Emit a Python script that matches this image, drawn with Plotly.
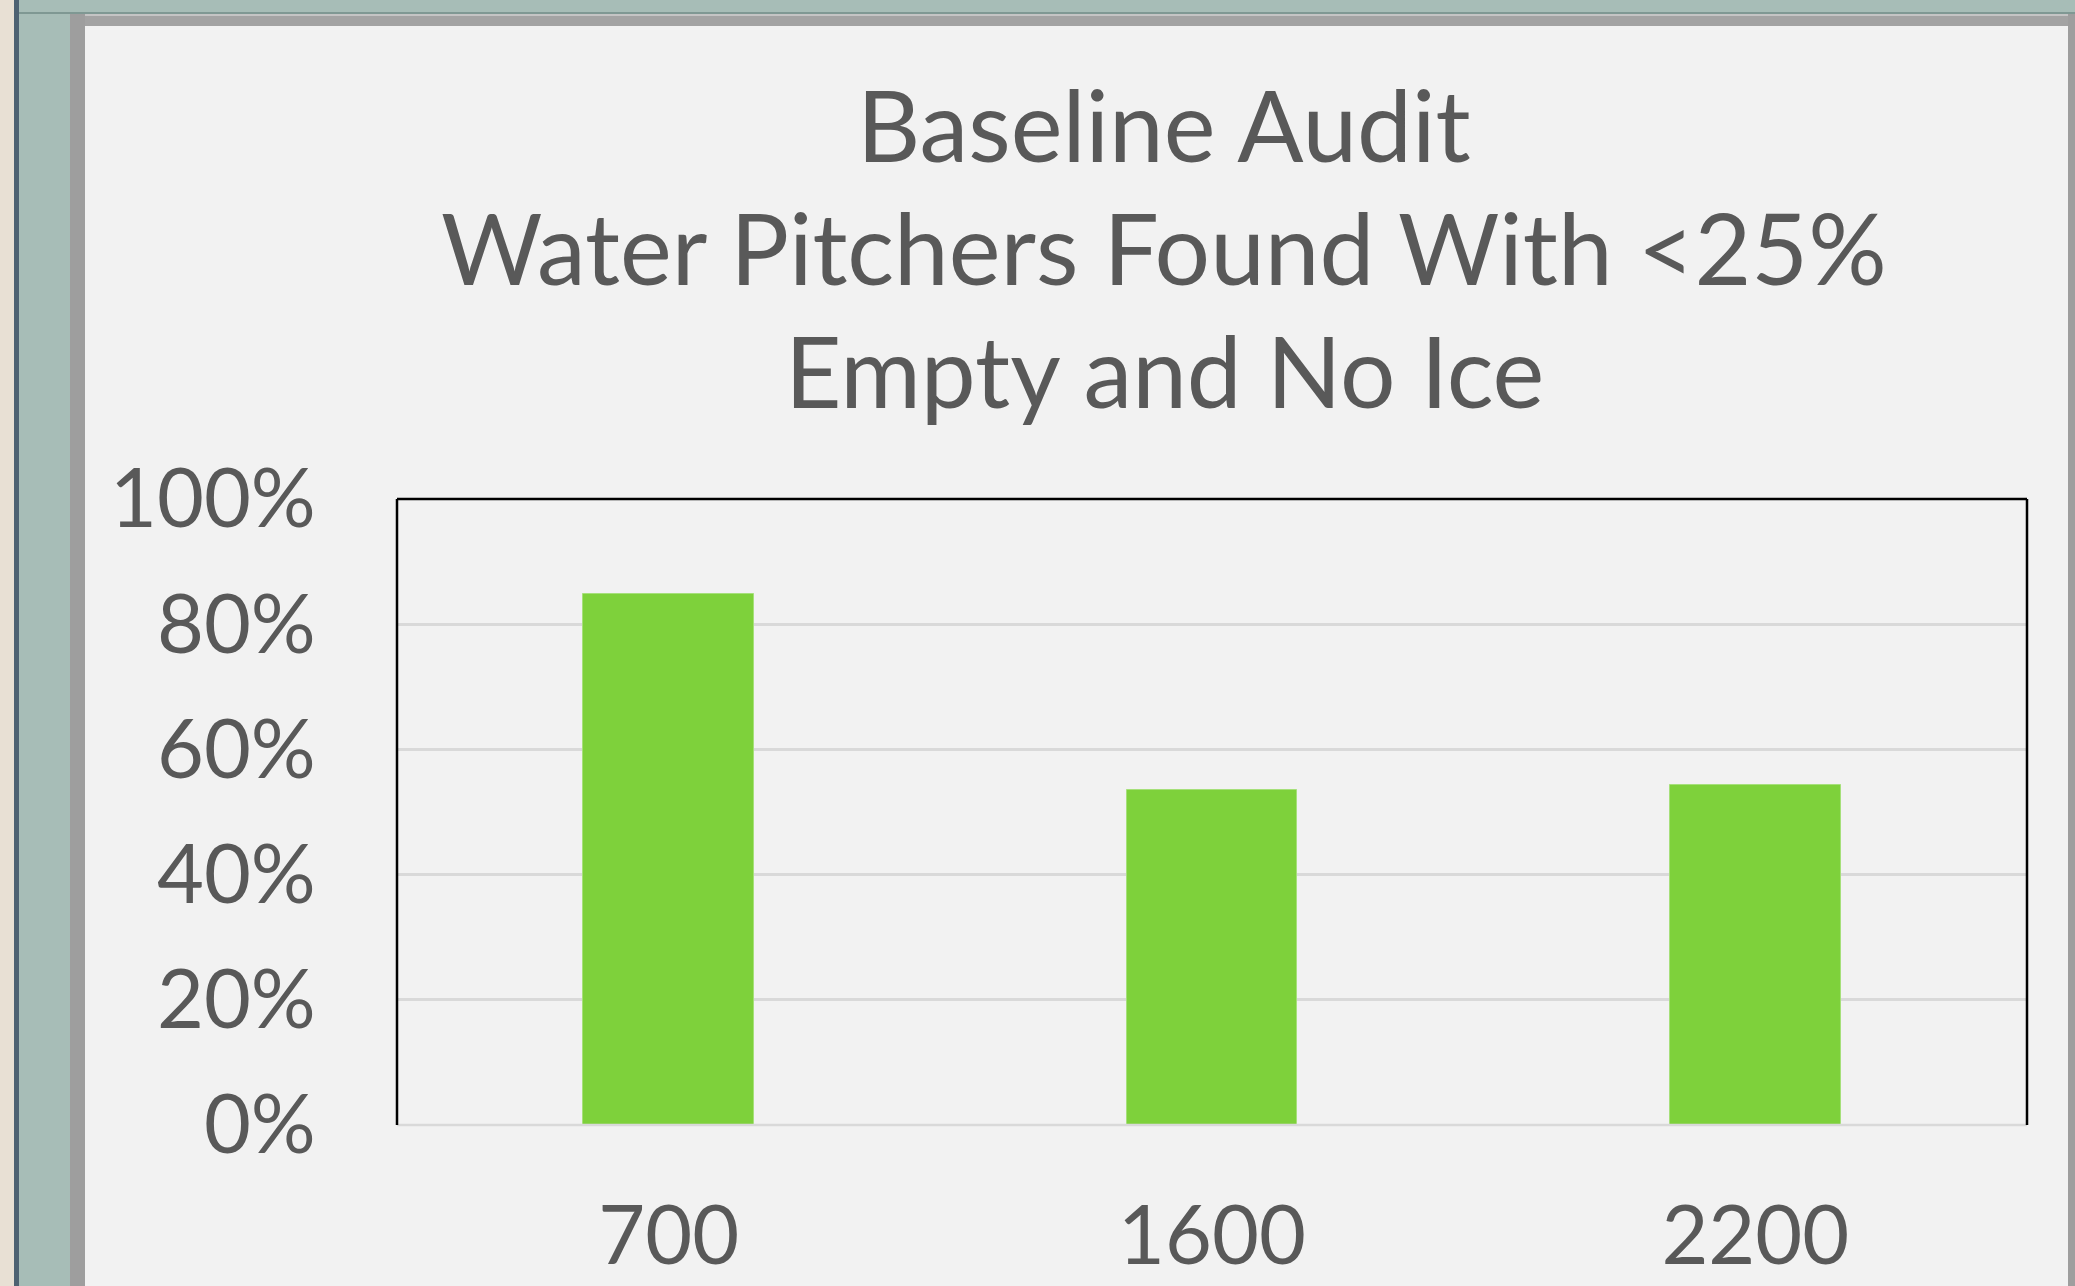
import plotly.graph_objects as go

categories = ["700", "1600", "2200"]
values = [0.848, 0.535, 0.543]
title_lines = ["Baseline Audit", "Water Pitchers Found With <25%", "Empty and No Ice"]

W, H = 2075, 1286
L, R, T, B = 397, 2027, 499, 1125  # plot area in pixels

def px(x):
    return (x - L) / (R - L)

def py(y):
    return (B - y) / (B - T)

TEXT = "#595959"
FONT = "Lato"

fig = go.Figure()
fig.add_trace(go.Bar(
    x=categories, y=values, width=0.314,
    marker=dict(color="#7ED13B", line=dict(color="#A6E07A", width=1)),
    hoverinfo="skip",
))

shapes = []
def rect(x0, y0, x1, y1, color):
    shapes.append(dict(type="rect", xref="paper", yref="paper",
                       x0=px(x0), x1=px(x1), y0=py(y1), y1=py(y0),
                       fillcolor=color, line=dict(width=0), layer="above"))

# outer frame
rect(0, 0, 15, H, "#E8E0D4")
rect(14, 0, 19, H, "#4E6272")
rect(19, 0, W, 13, "#A7BDB7")
rect(19, 0, 70, H, "#A7BDB7")
rect(70, 13, W, 26, "#A3A3A3")
rect(70, 13, W, 16, "#C4C4C4")
rect(70, 13, 85, H, "#9E9E9E")
rect(2068, 13, W, H, "#9E9E9E")
rect(19, 12, W, 14, "#7F9893")

def line(x0, y0, x1, y1, color, w):
    shapes.append(dict(type="line", xref="paper", yref="paper",
                       x0=x0, x1=x1, y0=y0, y1=y1,
                       line=dict(color=color, width=w), layer="above"))

line(0, 0, 1, 0, "#D9D9D9", 2.5)
line(0, 1, 1, 1, "#000000", 2.5)
line(0, 0, 0, 1, "#000000", 2.5)
line(1, 0, 1, 1, "#000000", 2.5)

title_y = [124, 247, 370]
annotations = [dict(
    text=t, xref="paper", yref="paper",
    x=px(1164), y=py(yy), xanchor="center", yanchor="middle",
    showarrow=False, font=dict(family=FONT, size=98, color=TEXT),
) for t, yy in zip(title_lines, title_y)]

fig.update_layout(
    width=W, height=H, autosize=False,
    margin=dict(l=L, r=W - R, t=T, b=H - B, pad=0, autoexpand=False),
    paper_bgcolor="#F2F2F2", plot_bgcolor="#F2F2F2",
    showlegend=False,
    bargap=0,
    shapes=shapes,
    font=dict(family=FONT, color=TEXT, size=81),
    annotations=annotations,
    xaxis=dict(type="category", showgrid=False, zeroline=False, showline=False,
               automargin=False,
               ticks="outside", ticklen=41, tickcolor="rgba(0,0,0,0)",
               tickfont=dict(size=81, color=TEXT, family=FONT)),
    yaxis=dict(range=[0, 1], dtick=0.2, tickformat=".0%", showgrid=True,
               automargin=False,
               gridcolor="#D9D9D9", gridwidth=2.5, zeroline=False, showline=False,
               ticks="outside", ticklen=64, tickcolor="rgba(0,0,0,0)",
               tickfont=dict(size=81, color=TEXT, family=FONT)),
)

fig.write_html("out.html", config={"displayModeBar": False},
               post_script="document.body.style.margin='0';document.body.style.overflow='hidden';")
